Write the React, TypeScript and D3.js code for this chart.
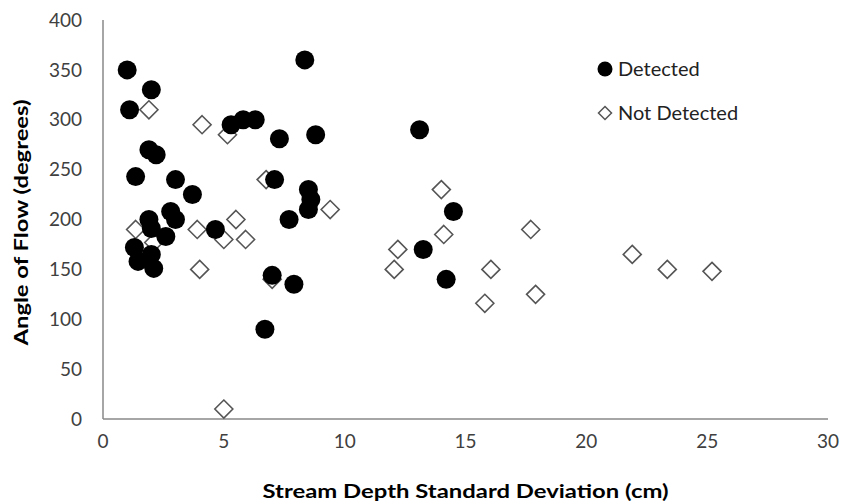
import { useEffect, useRef } from 'react';
import * as d3 from 'd3';

// Detected points: [stream depth SD (cm), angle of flow (degrees)]
const detectedX = [1.0, 2.0, 1.1, 1.9, 2.2, 1.35, 3.0, 3.7, 1.9, 2.8, 3.0, 2.6, 2.0, 1.3, 1.45, 2.0, 2.1, 4.65, 5.3, 5.8, 6.3, 8.35, 7.3, 8.8, 7.1, 8.5, 8.6, 8.5, 7.7, 7.0, 7.9, 6.7, 13.1, 14.5, 13.25, 14.2];
const detectedY = [350, 330, 310, 270, 265, 243, 240, 225, 200, 208, 200, 183, 191, 172, 158, 165, 151, 190, 295, 300, 300, 360, 281, 285, 240, 230, 220, 210, 200, 144, 135, 90, 290, 208, 170, 140];

const notDetectedX = [1.9, 4.1, 5.15, 6.75, 1.35, 2.1, 3.9, 5.5, 5.0, 5.9, 4.0, 5.0, 7.0, 9.4, 14.0, 14.1, 12.2, 12.05, 17.7, 16.05, 15.8, 17.9, 21.9, 23.35, 25.2];
const notDetectedY = [310, 295, 285, 240, 190, 177, 190, 200, 180, 180, 150, 10, 140, 210, 230, 185, 170, 150, 190, 150, 116, 125, 165, 150, 148];

const xTicks = [0, 5, 10, 15, 20, 25, 30];
const yTicks = [0, 50, 100, 150, 200, 250, 300, 350, 400];

const seriesNames = ['Detected', 'Not Detected'];

const FONT = 'Lato, "Open Sans", sans-serif';

const Scatter = () => {
  const svgRef = useRef<SVGSVGElement>(null);

  useEffect(() => {
    const svg = d3.select(svgRef.current);
    svg.selectAll('*').remove();

    const width = 846;
    const height = 504;
    const left = 103, right = 828, top = 20, bottom = 419;

    svg.attr('width', width).attr('height', height);

    svg.append('rect')
      .attr('width', width)
      .attr('height', height)
      .attr('fill', '#fff');

    const x = d3.scaleLinear().domain([0, 30]).range([left, right]);
    const y = d3.scaleLinear().domain([0, 400]).range([bottom, top]);

    // axis lines
    svg.append('line')
      .attr('x1', left).attr('x2', left)
      .attr('y1', top).attr('y2', bottom)
      .attr('stroke', '#888').attr('stroke-width', 1.5);
    svg.append('line')
      .attr('x1', left).attr('x2', right)
      .attr('y1', bottom).attr('y2', bottom)
      .attr('stroke', '#888').attr('stroke-width', 1.5);

    // tick labels
    svg.selectAll('.xtick')
      .data(xTicks)
      .enter().append('text')
      .attr('x', d => x(d))
      .attr('y', 448)
      .attr('text-anchor', 'middle')
      .style('font-family', FONT)
      .style('font-size', '19px')
      .style('fill', '#404040')
      .text(d => d);

    svg.selectAll('.ytick')
      .data(yTicks)
      .enter().append('text')
      .attr('x', 82)
      .attr('y', d => y(d))
      .attr('dy', '0.35em')
      .attr('text-anchor', 'end')
      .style('font-family', FONT)
      .style('font-size', '19px')
      .style('fill', '#404040')
      .text(d => d);

    // axis titles
    svg.append('text')
      .attr('x', (left + right) / 2)
      .attr('y', 498)
      .attr('text-anchor', 'middle')
      .attr('textLength', 406)
      .attr('lengthAdjust', 'spacingAndGlyphs')
      .style('font-family', FONT)
      .style('font-size', '18px')
      .style('font-weight', 'bold')
      .style('fill', '#000')
      .text('Stream Depth Standard Deviation (cm)');

    svg.append('text')
      .attr('transform', `translate(28,${(top + bottom) / 2 + 3}) rotate(-90)`)
      .attr('text-anchor', 'middle')
      .attr('textLength', 246)
      .attr('lengthAdjust', 'spacingAndGlyphs')
      .style('font-family', FONT)
      .style('font-size', '18px')
      .style('font-weight', 'bold')
      .style('fill', '#000')
      .text('Angle of Flow (degrees)');

    const diamond = (cx: number, cy: number, r: number) =>
      `M${cx},${cy - r}L${cx + r},${cy}L${cx},${cy + r}L${cx - r},${cy}Z`;

    // not detected (drawn underneath)
    svg.append('g')
      .selectAll('path')
      .data(notDetectedX.map((d, i) => [d, notDetectedY[i]]))
      .enter().append('path')
      .attr('d', d => diamond(x(d[0]), y(d[1]), 9))
      .attr('fill', '#fff')
      .attr('stroke', '#555')
      .attr('stroke-width', 1.6);

    // detected
    svg.append('g')
      .selectAll('circle')
      .data(detectedX.map((d, i) => [d, detectedY[i]]))
      .enter().append('circle')
      .attr('cx', d => x(d[0]))
      .attr('cy', d => y(d[1]))
      .attr('r', 9.5)
      .attr('fill', '#000');

    // legend
    const legend = svg.append('g');
    legend.append('circle')
      .attr('cx', 605).attr('cy', 69).attr('r', 7.5)
      .attr('fill', '#000');
    legend.append('path')
      .attr('d', diamond(605, 113, 6.5))
      .attr('fill', '#fff')
      .attr('stroke', '#555')
      .attr('stroke-width', 1.5);
    legend.selectAll('text')
      .data(seriesNames)
      .enter().append('text')
      .attr('x', 618)
      .attr('y', (d, i) => 69 + i * 44)
      .attr('dy', '0.35em')
      .style('font-family', FONT)
      .style('font-size', '20px')
      .style('fill', '#222')
      .text(d => d);
  }, []);

  return <svg ref={svgRef} style={{ position: 'absolute', left: 0, top: 0, display: 'block' }}></svg>;
};

export default function App() {
  return <Scatter />;
}
